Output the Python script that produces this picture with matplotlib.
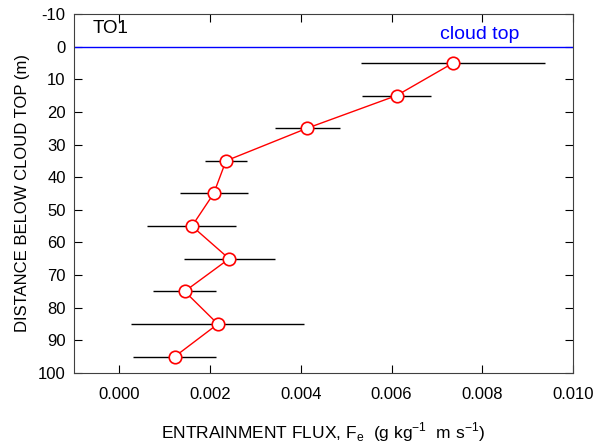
import matplotlib
matplotlib.use("Agg")
import matplotlib.pyplot as plt

plt.rcParams['font.family'] = ['Liberation Sans', 'DejaVu Sans']
plt.rcParams['axes.unicode_minus'] = False

depth = [5, 15, 25, 35, 45, 55, 65, 75, 85, 95]
flux = [0.00736, 0.00611, 0.00414, 0.00235, 0.00208, 0.00160, 0.00242, 0.00144, 0.00217, 0.00122]
flux_err = [0.00203, 0.00077, 0.00072, 0.00046, 0.00075, 0.00098, 0.00100, 0.00070, 0.00191, 0.00091]

fig = plt.figure(figsize=(5.93, 4.44), dpi=100)
ax = fig.add_axes([0.1248, 0.160, 0.8415, 0.8085])

ax.errorbar(flux, depth, xerr=flux_err, fmt='none', ecolor='black', elinewidth=1, capsize=0, zorder=2)
ax.plot(flux, depth, color='red', lw=1, marker='o', ms=9, mfc='white', mec='red', mew=1.2, zorder=3)
ax.axhline(0, color='blue', lw=1)

ax.text(-0.00059, -5.4, 'TO1', fontsize=13.5, va='center', ha='left')
ax.text(0.00795, -3.6, 'cloud top', fontsize=14, color='blue', va='center', ha='center')

ax.set_xlim(-0.001, 0.010)
ax.set_ylim(100, -10)
ax.set_xticks([0.000, 0.002, 0.004, 0.006, 0.008, 0.010])
ax.set_xticklabels(['0.000', '0.002', '0.004', '0.006', '0.008', '0.010'])
ax.set_yticks(range(-10, 101, 10))
ax.tick_params(direction='in', length=6, top=True, right=True, labelsize=12)
ax.tick_params(axis='x', pad=10)
ax.tick_params(axis='y', pad=6)
for s in ax.spines.values():
    s.set_color('#404040')

ax.set_xlabel('ENTRAINMENT FLUX, F$_\\mathregular{e}$  (g kg$^\\mathregular{-1}$  m s$^\\mathregular{-1}$)', fontsize=12.5, labelpad=13)
ax.set_ylabel('DISTANCE BELOW CLOUD TOP (m)', fontsize=12, labelpad=6)

fig.savefig('out.png', dpi=100)
